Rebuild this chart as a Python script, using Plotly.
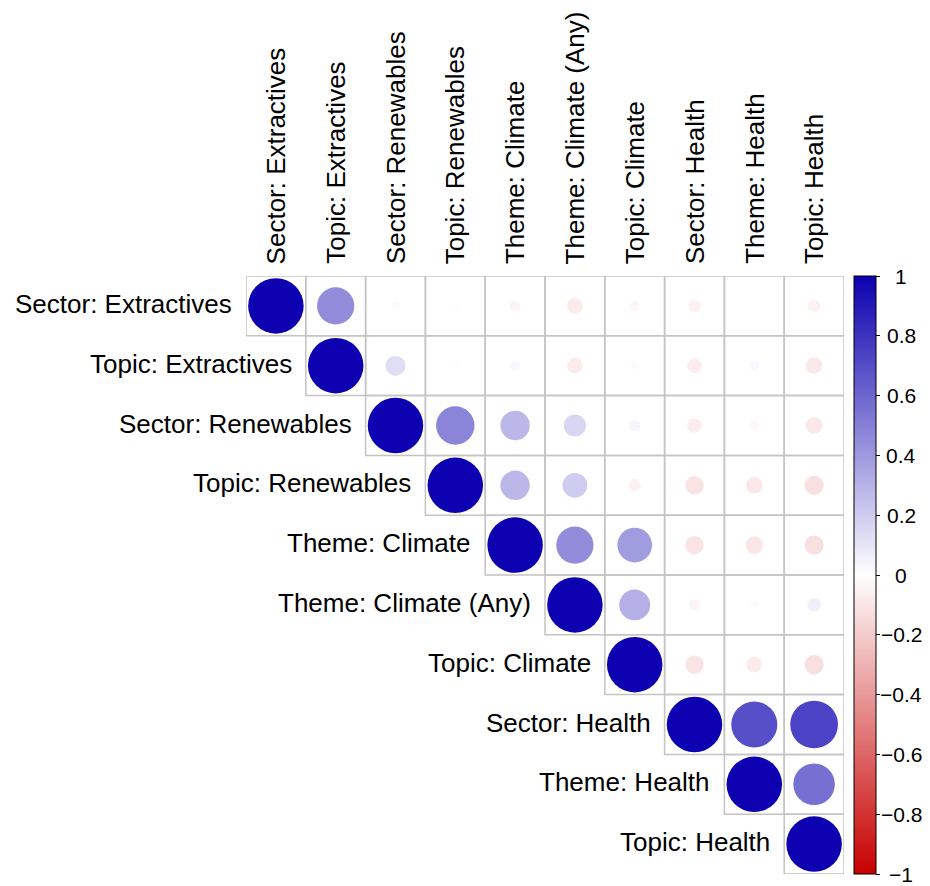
import numpy as np
import plotly.graph_objects as go

labels = [
    "Sector: Extractives", "Topic: Extractives", "Sector: Renewables",
    "Topic: Renewables", "Theme: Climate", "Theme: Climate (Any)",
    "Topic: Climate", "Sector: Health", "Theme: Health", "Topic: Health",
]

# Upper triangle of the correlation matrix (row i holds columns i..10)
corr_upper = [
    [1.00, 0.45, 0.02, 0.01, -0.04, -0.08, -0.03, -0.05, -0.005, -0.05],
    [1.00, 0.13, 0.01, 0.03, -0.08, -0.02, -0.07, 0.03, -0.09],
    [1.00, 0.48, 0.28, 0.16, 0.04, -0.07, -0.03, -0.09],
    [1.00, 0.28, 0.20, -0.05, -0.11, -0.09, -0.12],
    [1.00, 0.45, 0.39, -0.11, -0.10, -0.12],
    [1.00, 0.31, -0.04, -0.02, 0.06],
    [1.00, -0.11, -0.08, -0.12],
    [1.00, 0.69, 0.74],
    [1.00, 0.56],
    [1.00],
]

colorbar_ticks = [-1, -0.8, -0.6, -0.4, -0.2, 0, 0.2, 0.4, 0.6, 0.8, 1]

n = len(labels)
xs, ys, vals = [], [], []
for i, row in enumerate(corr_upper):
    for k, v in enumerate(row):
        xs.append(i + k + 1)
        ys.append(i + 1)
        vals.append(v)
vals = np.array(vals)

FONT = "Liberation Sans, Arial, sans-serif"
colorscale = [[0.0, "#C80000"], [0.5, "#FFFFFF"], [1.0, "#0C00B0"]]

fig = go.Figure()

# cell outlines
for i in range(n):
    for j in range(i, n):
        fig.add_shape(type="rect", xref="x", yref="y",
                      x0=j + 0.5, x1=j + 1.5, y0=i + 0.5, y1=i + 1.5,
                      line=dict(color="#C4C4C4", width=1.5),
                      fillcolor="rgba(0,0,0,0)", layer="below")

# circles: area proportional to |r|
fig.add_trace(go.Scatter(
    x=xs, y=ys, mode="markers",
    marker=dict(
        size=np.sqrt(np.abs(vals)), sizemode="diameter", sizeref=1 / 55.5,
        color=vals, cmin=-1, cmax=1, colorscale=colorscale,
        opacity=1, line=dict(width=0),
        showscale=True,
        colorbar=dict(
            x=(854 - 246) / 598, xanchor="left", xpad=0,
            y=0.5, yanchor="middle", len=1, lenmode="fraction", ypad=0,
            thickness=22, outlinewidth=1, outlinecolor="black",
            tickvals=colorbar_ticks, ticks="outside", ticklen=4,
            tickwidth=1, tickcolor="black", showticklabels=False,
        ),
    ),
    hoverinfo="skip", showlegend=False,
))

annotations = []
for i, lab in enumerate(labels):
    # row label, right-aligned against the first cell of the row
    annotations.append(dict(
        x=i + 0.5, y=i + 1, xref="x", yref="y", text=lab, showarrow=False,
        xanchor="right", yanchor="middle", xshift=-12, yshift=2,
        font=dict(family=FONT, size=26, color="black"),
    ))
    # column label, rotated above the grid
    annotations.append(dict(
        x=i + 1, y=0.5, xref="x", yref="y", text=lab, showarrow=False,
        textangle=-90, xanchor="center", yanchor="bottom", yshift=10,
        font=dict(family=FONT, size=26, color="black"),
    ))

for t in colorbar_ticks:
    txt = ("%g" % t).replace("-", "\u2212")
    annotations.append(dict(
        x=(901 - 246) / 598, y=(t + 1) / 2, xref="paper", yref="paper",
        text=txt, showarrow=False, xanchor="center", yanchor="middle",
        font=dict(family=FONT, size=21, color="black"),
    ))

fig.update_layout(
    width=930, height=886,
    margin=dict(l=246, r=86, t=276, b=12, pad=0),
    paper_bgcolor="white", plot_bgcolor="white",
    xaxis=dict(range=[0.5, n + 0.5], visible=False, fixedrange=True),
    yaxis=dict(range=[n + 0.5, 0.5], visible=False, fixedrange=True),
    annotations=annotations,
    showlegend=False,
)

fig.write_html("out.html")
